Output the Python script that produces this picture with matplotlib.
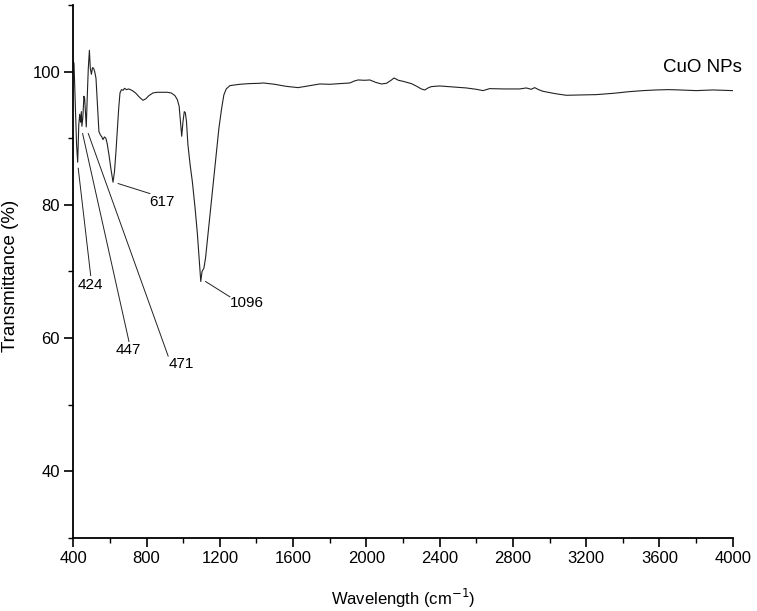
import matplotlib
matplotlib.use("Agg")
import matplotlib.pyplot as plt
from matplotlib.ticker import MultipleLocator

plt.rcParams["font.family"] = ["Liberation Sans", "DejaVu Sans"]

# FTIR spectrum
wavenumber = [400, 404, 410, 418, 424, 430, 435, 440, 444, 447, 452, 458, 462, 466, 471,
              476, 482, 488, 493, 499, 505, 511, 517, 524, 532, 540, 548, 556, 562, 570,
              578, 585, 595, 605, 617, 625, 633, 640, 648, 655, 663, 672, 680, 690, 703,
              720, 740, 760, 780, 795, 813, 835, 858, 885, 913, 935, 955, 968, 978, 985,
              992, 999, 1006, 1012, 1018, 1026, 1038, 1050, 1065, 1078, 1088, 1096, 1103,
              1113, 1122, 1135, 1150, 1165, 1180, 1195, 1210, 1222, 1235, 1255, 1280, 1309,
              1360, 1418, 1437, 1500, 1560, 1627, 1690, 1746, 1800, 1860, 1910, 1935, 1955,
              1990, 2019, 2050, 2082, 2110, 2135, 2151, 2175, 2200, 2246, 2275, 2300, 2319,
              2340, 2355, 2400, 2470, 2546, 2600, 2637, 2673, 2750, 2837, 2873, 2900, 2919,
              2940, 2964, 3030, 3091, 3180, 3255, 3350, 3437, 3510, 3583, 3650, 3710, 3801,
              3892, 4000]
transmittance = [101.6, 101.2, 96.0, 89.0, 86.4, 92.0, 93.6, 92.4, 94.0, 91.8, 93.0, 96.3,
                 96.0, 94.0, 91.7, 96.0, 100.5, 103.2, 100.5, 99.6, 100.6, 100.5, 100.0,
                 99.0, 95.0, 91.0, 90.5, 90.2, 89.8, 90.2, 90.0, 89.2, 87.5, 85.5, 83.4,
                 85.0, 88.0, 91.0, 94.5, 96.8, 97.3, 97.2, 97.5, 97.3, 97.4, 97.2, 96.8,
                 96.2, 95.7, 95.9, 96.4, 96.8, 96.9, 96.9, 96.9, 96.8, 96.4, 95.8, 94.8,
                 92.5, 90.3, 92.5, 94.0, 93.8, 92.5, 89.0, 86.0, 83.5, 79.5, 75.5, 71.5,
                 68.5, 70.0, 70.5, 72.0, 75.5, 79.5, 83.5, 87.5, 91.5, 94.5, 96.5, 97.4,
                 97.9, 98.0, 98.1, 98.2, 98.25, 98.3, 98.1, 97.8, 97.6, 97.9, 98.15, 98.1,
                 98.2, 98.3, 98.6, 98.75, 98.7, 98.75, 98.4, 98.15, 98.25, 98.7, 99.05,
                 98.7, 98.55, 98.2, 97.8, 97.4, 97.25, 97.6, 97.75, 97.85, 97.7, 97.55,
                 97.35, 97.15, 97.45, 97.4, 97.4, 97.55, 97.35, 97.6, 97.3, 97.05, 96.7,
                 96.45, 96.5, 96.55, 96.75, 97.0, 97.15, 97.25, 97.3, 97.25, 97.15, 97.25,
                 97.15]

peak_labels = ["424", "447", "471", "617", "1096"]
# (line start x, y), (line end x, y), (text x, y)
leader_lines = [((427, 85.5), (495, 69.4), (491, 68.0)),
                ((451, 90.7), (704, 59.5), (698, 58.2)),
                ((482, 90.7), (918, 57.3), (988, 56.1)),
                ((645, 83.2), (818, 81.7), (884, 80.5)),
                ((1122, 68.5), (1255, 66.2), (1347, 65.2))]

fig = plt.figure(figsize=(7.57, 6.11), dpi=100)
ax = fig.add_axes([0.0968, 0.1195, 0.8711, 0.8723])

ax.plot(wavenumber, transmittance, color="#222222", lw=0.8)

for lab, (p0, p1, pt) in zip(peak_labels, leader_lines):
    ax.plot([p0[0], p1[0]], [p0[1], p1[1]], color="#222222", lw=0.7)
    ax.text(pt[0], pt[1], lab, fontsize=11, ha="center", va="center")

ax.text(3620, 100.6, "CuO NPs", fontsize=13.5, ha="left", va="center", clip_on=False)

ax.set_xlim(400, 4000)
ax.set_ylim(30, 110)
ax.xaxis.set_major_locator(MultipleLocator(400))
ax.xaxis.set_minor_locator(MultipleLocator(200))
ax.yaxis.set_minor_locator(MultipleLocator(10))
ax.set_yticks([40, 60, 80, 100])
ax.tick_params(which="major", length=6.5, width=1.2, labelsize=12, direction="out", pad=3)
ax.tick_params(which="minor", length=3.5, width=1.0, direction="out")

ax.spines["top"].set_visible(False)
ax.spines["right"].set_visible(False)
ax.spines["left"].set_linewidth(1.3)
ax.spines["bottom"].set_linewidth(1.3)

ax.set_xlabel("Wavelength (cm$^{-1}$)", fontsize=12)
ax.xaxis.set_label_coords(0.5, -0.092)
ax.set_ylabel("Transmittance (%)", fontsize=13.5)
ax.yaxis.set_label_coords(-0.083, 0.492)

fig.savefig("out.png", dpi=100)
